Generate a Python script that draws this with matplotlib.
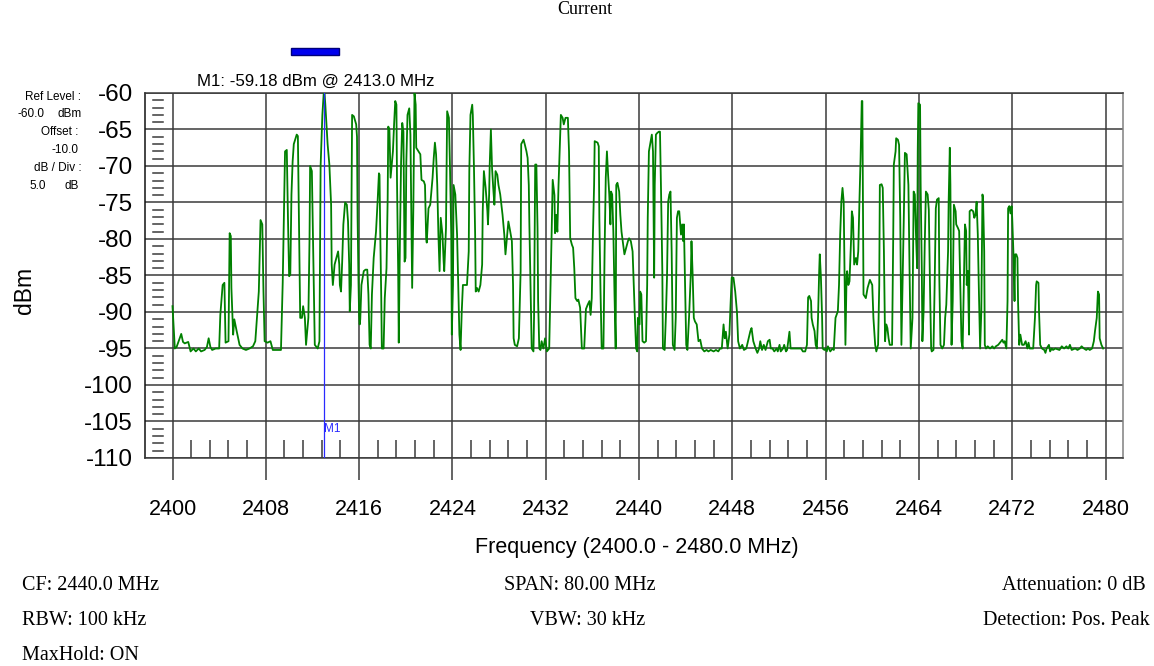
import numpy as np
import matplotlib
matplotlib.use("Agg")
import matplotlib.pyplot as plt
from matplotlib.patches import Rectangle
from matplotlib.transforms import blended_transform_factory

# Analyzer settings
center_mhz = 2440.0
span_mhz = 80.0
ref_level_dbm = -60.0
offset_db = -10.0
db_per_div = 5.0
n_divs = 10
rbw_khz = 100
vbw_khz = 30
attenuation_db = 0
detection = "Pos. Peak"
maxhold = "ON"
marker_name = "M1"
marker_mhz = 2413.0

freq_ticks = list(range(2400, 2481, 8))

# Max-hold trace of the 2.4 GHz ISM band (MHz, dBm)
trace_mhz = [
    2400.0, 2400.1, 2400.2, 2400.35, 2400.75, 2400.9, 2401.05, 2401.35, 2401.55, 2401.8,
    2402.0, 2402.25, 2402.45, 2402.75, 2402.95, 2403.1, 2403.25, 2403.4, 2403.7, 2404.0,
    2404.1, 2404.3, 2404.45, 2404.55, 2404.8, 2404.9, 2405.0, 2405.05, 2405.2, 2405.3,
    2405.5, 2405.75, 2406.0, 2406.3, 2406.6, 2406.9, 2407.1, 2407.4, 2407.55, 2407.7,
    2407.8, 2407.9, 2408.15, 2408.4, 2408.6, 2409.3, 2409.45, 2409.55, 2409.65, 2409.8,
    2409.9, 2410.0, 2410.1, 2410.2, 2410.3, 2410.4, 2410.65, 2410.75, 2410.85, 2410.95,
    2411.1, 2411.2, 2411.35, 2411.45, 2411.65, 2411.75, 2411.8, 2411.95, 2412.05, 2412.2,
    2412.45, 2412.6, 2412.7, 2412.85, 2413.0, 2413.1, 2413.3, 2413.45, 2413.6, 2413.65,
    2413.75, 2413.9, 2414.05, 2414.2, 2414.3, 2414.35, 2414.45, 2414.55, 2414.65, 2414.8,
    2414.95, 2415.05, 2415.15, 2415.2, 2415.3, 2415.4, 2415.55, 2415.75, 2415.82, 2415.87,
    2415.95, 2416.0, 2416.05, 2416.1, 2416.2, 2416.4, 2416.55, 2416.7, 2416.8, 2416.9,
    2417.0, 2417.1, 2417.25, 2417.45, 2417.6, 2417.7, 2417.75, 2417.8, 2417.9, 2417.95,
    2418.1, 2418.2, 2418.35, 2418.45, 2418.5, 2418.6, 2418.7, 2418.8, 2418.9, 2419.0,
    2419.1, 2419.2, 2419.25, 2419.35, 2419.4, 2419.5, 2419.6, 2419.7, 2419.8, 2419.9,
    2419.98, 2420.05, 2420.15, 2420.3, 2420.4, 2420.5, 2420.55, 2420.65, 2420.75, 2420.85,
    2420.9, 2421.1, 2421.25, 2421.35, 2421.55, 2421.65, 2421.75, 2421.8, 2421.95, 2422.1,
    2422.3, 2422.4, 2422.5, 2422.6, 2422.7, 2422.8, 2422.9, 2423.0, 2423.15, 2423.25,
    2423.3, 2423.45, 2423.55, 2423.7, 2423.8, 2423.9, 2423.95, 2424.05, 2424.1, 2424.25,
    2424.4, 2424.5, 2424.6, 2424.7, 2424.8, 2424.9, 2425.25, 2425.4, 2425.45, 2425.55,
    2425.7, 2425.75, 2425.85, 2425.95, 2426.0, 2426.1, 2426.25, 2426.4, 2426.55, 2426.6,
    2426.7, 2426.85, 2427.0, 2427.05, 2427.15, 2427.2, 2427.3, 2427.4, 2427.5, 2427.6,
    2427.7, 2427.85, 2427.95, 2428.1, 2428.3, 2428.45, 2428.55, 2428.65, 2428.8, 2428.95,
    2429.1, 2429.2, 2429.25, 2429.35, 2429.55, 2429.7, 2429.85, 2429.9, 2430.1, 2430.2,
    2430.35, 2430.45, 2430.55, 2430.6, 2430.7, 2430.8, 2430.95, 2431.0, 2431.1, 2431.2,
    2431.3, 2431.35, 2431.45, 2431.55, 2431.65, 2431.8, 2431.95, 2432.1, 2432.3, 2432.35,
    2432.5, 2432.6, 2432.75, 2432.8, 2432.9, 2433.0, 2433.1, 2433.2, 2433.3, 2433.45,
    2433.55, 2433.7, 2433.9, 2434.0, 2434.1, 2434.25, 2434.35, 2434.45, 2434.55, 2434.7,
    2434.8, 2434.95, 2435.1, 2435.3, 2435.45, 2435.6, 2435.75, 2435.85, 2435.95, 2436.05,
    2436.15, 2436.2, 2436.45, 2436.55, 2436.6, 2436.7, 2436.8, 2436.95, 2437.05, 2437.15,
    2437.25, 2437.35, 2437.45, 2437.55, 2437.6, 2437.7, 2437.8, 2437.9, 2438.0, 2438.05,
    2438.15, 2438.3, 2438.4, 2438.5, 2438.65, 2438.75, 2438.9, 2439.05, 2439.15, 2439.3,
    2439.45, 2439.55, 2439.65, 2439.75, 2439.85, 2439.9, 2440.05, 2440.1, 2440.2, 2440.3,
    2440.45, 2440.6, 2440.7, 2440.75, 2440.85, 2441.0, 2441.1, 2441.2, 2441.3, 2441.35,
    2441.45, 2441.55, 2441.7, 2441.8, 2441.9, 2442.0, 2442.05, 2442.2, 2442.3, 2442.4,
    2442.5, 2442.6, 2442.7, 2442.8, 2442.9, 2443.05, 2443.15, 2443.25, 2443.35, 2443.45,
    2443.6, 2443.7, 2443.8, 2443.85, 2443.95, 2444.05, 2444.15, 2444.3, 2444.45, 2444.5,
    2444.6, 2444.7, 2444.8, 2444.95, 2445.1, 2445.25, 2445.4, 2445.6, 2445.8, 2445.95,
    2446.15, 2446.4, 2446.6, 2446.8, 2446.95, 2447.1, 2447.25, 2447.35, 2447.45, 2447.6,
    2447.75, 2447.85, 2447.95, 2448.1, 2448.25, 2448.4, 2448.5, 2448.65, 2448.85, 2449.0,
    2449.2, 2449.4, 2449.55, 2449.65, 2449.8, 2449.9, 2450.0, 2450.15, 2450.3, 2450.4,
    2450.55, 2450.7, 2450.85, 2451.05, 2451.2, 2451.3, 2451.45, 2451.6, 2451.8, 2451.9,
    2452.05, 2452.15, 2452.35, 2452.45, 2452.6, 2452.7, 2452.8, 2452.9, 2453.0, 2453.4,
    2453.9, 2454.05, 2454.25, 2454.4, 2454.5, 2454.6, 2454.75, 2454.8, 2454.9, 2455.05,
    2455.15, 2455.25, 2455.35, 2455.45, 2455.5, 2455.6, 2455.7, 2455.75, 2455.9, 2456.0,
    2456.1, 2456.2, 2456.4, 2456.6, 2456.7, 2456.85, 2457.05, 2457.15, 2457.25, 2457.35,
    2457.45, 2457.55, 2457.6, 2457.7, 2457.8, 2457.85, 2457.95, 2458.05, 2458.2, 2458.25,
    2458.35, 2458.45, 2458.6, 2458.7, 2458.8, 2458.9, 2459.0, 2459.1, 2459.15, 2459.2,
    2459.25, 2459.45, 2459.6, 2459.8, 2460.0, 2460.1, 2460.25, 2460.35, 2460.5, 2460.6,
    2460.65, 2460.8, 2460.9, 2461.0, 2461.1, 2461.2, 2461.3, 2461.4, 2461.5, 2461.7,
    2461.8, 2461.85, 2462.0, 2462.05, 2462.2, 2462.3, 2462.4, 2462.45, 2462.5, 2462.6,
    2462.7, 2462.8, 2462.95, 2463.0, 2463.1, 2463.2, 2463.3, 2463.45, 2463.55, 2463.65,
    2463.75, 2463.85, 2463.9, 2463.95, 2464.1, 2464.15, 2464.25, 2464.3, 2464.4, 2464.5,
    2464.6, 2464.75, 2464.85, 2464.95, 2465.05, 2465.1, 2465.25, 2465.35, 2465.45, 2465.55,
    2465.7, 2465.75, 2465.85, 2466.0, 2466.15, 2466.25, 2466.35, 2466.5, 2466.55, 2466.65,
    2466.7, 2466.8, 2466.9, 2467.0, 2467.15, 2467.2, 2467.35, 2467.45, 2467.55, 2467.65,
    2467.75, 2467.85, 2467.95, 2468.05, 2468.1, 2468.2, 2468.3, 2468.35, 2468.5, 2468.65,
    2468.75, 2468.85, 2468.95, 2469.05, 2469.15, 2469.25, 2469.35, 2469.45, 2469.5, 2469.6,
    2469.65, 2469.75, 2469.9, 2470.1, 2470.3, 2470.45, 2470.6, 2470.8, 2470.95, 2471.15,
    2471.25, 2471.35, 2471.5, 2471.6, 2471.65, 2471.75, 2471.85, 2471.95, 2472.0, 2472.1,
    2472.2, 2472.25, 2472.35, 2472.45, 2472.5, 2472.6, 2472.7, 2472.85, 2473.0, 2473.15,
    2473.3, 2473.4, 2473.5, 2473.8, 2473.95, 2474.05, 2474.1, 2474.25, 2474.3, 2474.4,
    2474.55, 2474.75, 2474.85, 2474.95, 2475.15, 2475.25, 2475.4, 2475.5, 2475.7, 2476.05,
    2476.25, 2476.45, 2476.65, 2476.8, 2476.95, 2477.1, 2477.4, 2477.6, 2477.8, 2477.95,
    2478.15, 2478.35, 2478.5, 2478.65, 2478.85, 2479.0, 2479.1, 2479.25, 2479.35, 2479.45,
    2479.5, 2479.65, 2479.8,
]
trace_dbm = [
    -89.2, -92.2, -95.0, -94.8, -93.0, -94.1, -94.3, -94.1, -95.4, -95.0,
    -95.4, -95.0, -95.4, -95.2, -94.8, -93.6, -94.8, -95.2, -95.0, -95.0,
    -90.4, -86.3, -86.0, -94.2, -94.0, -79.2, -79.6, -86.7, -93.1, -91.0,
    -92.6, -94.5, -95.0, -95.2, -95.0, -94.7, -94.0, -87.2, -77.4, -78.0,
    -87.2, -94.0, -94.2, -94.0, -95.2, -95.2, -86.0, -77.1, -68.0, -67.8,
    -77.1, -85.1, -84.9, -73.9, -69.4, -67.0, -65.7, -65.9, -78.0, -90.8,
    -90.8, -89.2, -90.8, -94.5, -90.8, -79.9, -70.0, -70.7, -80.3, -94.5,
    -95.0, -94.0, -70.0, -63.0, -59.18, -61.5, -67.0, -69.8, -75.3, -83.5,
    -86.3, -83.5, -82.6, -81.7, -83.5, -86.3, -87.2, -83.1, -78.0, -75.0,
    -75.3, -77.6, -83.5, -89.9, -86.3, -63.0, -63.2, -64.3, -66.0, -77.0,
    -86.0, -90.4, -91.7, -91.0, -86.3, -84.4, -84.2, -84.2, -87.6, -94.5,
    -95.0, -87.6, -82.6, -79.0, -74.4, -71.0, -71.2, -77.6, -88.1, -95.0,
    -95.0, -88.1, -84.0, -74.4, -64.6, -65.0, -71.6, -69.8, -68.0, -64.3,
    -61.1, -61.6, -72.1, -84.4, -94.2, -80.3, -69.4, -64.1, -65.3, -83.1,
    -82.6, -69.4, -63.0, -62.1, -65.7, -79.0, -86.7, -75.8, -60.0, -61.6,
    -67.5, -68.0, -68.4, -71.9, -72.1, -72.6, -79.9, -80.5, -75.8, -75.3,
    -71.6, -68.9, -66.8, -68.4, -72.6, -79.4, -84.4, -77.1, -79.4, -83.1,
    -84.4, -78.5, -62.5, -63.4, -70.7, -79.4, -93.1, -86.3, -72.6, -73.9,
    -79.4, -86.3, -93.1, -95.2, -90.0, -86.3, -86.3, -81.7, -70.7, -63.0,
    -61.6, -63.0, -70.3, -79.4, -87.2, -86.7, -87.2, -86.3, -83.5, -76.2,
    -70.7, -73.0, -76.2, -78.0, -73.9, -69.8, -65.0, -70.3, -73.0, -75.3,
    -70.7, -71.2, -72.6, -73.9, -76.7, -79.4, -82.1, -80.3, -77.6, -78.9,
    -80.3, -86.3, -93.6, -94.5, -94.7, -93.6, -84.4, -67.0, -66.4, -67.0,
    -68.0, -68.9, -72.6, -78.0, -86.3, -95.0, -95.4, -90.8, -69.8, -69.8,
    -78.5, -88.5, -95.0, -95.2, -94.0, -95.0, -93.6, -95.4, -95.0, -91.3,
    -79.9, -71.9, -74.0, -79.2, -76.7, -79.0, -72.6, -68.0, -63.0, -63.4,
    -64.3, -63.4, -63.4, -68.0, -79.9, -80.8, -81.2, -84.0, -88.1, -88.5,
    -88.3, -89.4, -95.0, -95.0, -89.6, -89.0, -88.5, -90.4, -88.1, -79.4,
    -72.6, -66.6, -66.8, -67.3, -77.1, -87.2, -95.0, -95.0, -81.7, -71.6,
    -68.0, -71.2, -73.9, -78.0, -73.5, -73.9, -79.0, -87.6, -95.0, -72.6,
    -72.3, -73.5, -76.7, -79.0, -80.8, -82.1, -81.2, -80.3, -79.9, -80.3,
    -81.7, -86.3, -90.8, -95.0, -95.4, -90.8, -91.7, -87.2, -87.6, -94.0,
    -94.2, -94.0, -86.3, -77.1, -68.0, -66.6, -65.7, -68.0, -85.3, -72.6,
    -65.7, -65.5, -65.3, -65.3, -74.4, -84.4, -95.0, -95.2, -90.8, -85.3,
    -74.9, -73.9, -73.5, -81.7, -94.5, -95.2, -90.8, -77.1, -76.2, -76.2,
    -79.4, -78.0, -80.3, -78.0, -86.3, -94.5, -95.2, -90.4, -84.4, -80.3,
    -84.9, -90.8, -91.3, -91.7, -94.0, -93.8, -95.0, -95.4, -95.2, -95.4,
    -95.2, -95.4, -95.2, -95.4, -95.0, -95.0, -91.7, -93.6, -92.7, -95.0,
    -93.1, -89.0, -85.3, -85.3, -87.2, -90.0, -94.0, -95.0, -94.5, -95.2,
    -95.0, -93.6, -92.6, -92.2, -94.0, -94.5, -95.0, -95.6, -95.0, -94.0,
    -95.2, -94.5, -95.2, -94.0, -93.8, -95.0, -95.0, -95.4, -95.0, -95.4,
    -94.5, -95.4, -95.0, -94.5, -95.4, -95.2, -94.0, -92.7, -95.0, -95.0,
    -95.0, -95.4, -95.4, -94.5, -88.0, -87.8, -88.5, -90.8, -91.7, -92.6,
    -94.5, -95.0, -90.8, -84.4, -82.1, -85.3, -90.8, -95.0, -95.2, -95.0,
    -95.4, -94.7, -95.4, -95.0, -95.2, -90.8, -89.9, -86.3, -79.4, -74.9,
    -73.0, -74.9, -81.7, -94.5, -84.9, -84.4, -86.3, -85.8, -79.4, -76.2,
    -77.1, -83.5, -82.6, -83.5, -81.7, -74.9, -68.9, -61.1, -61.1, -74.9,
    -87.6, -88.1, -86.7, -85.6, -86.3, -90.8, -94.5, -95.4, -94.5, -86.3,
    -72.6, -72.5, -73.0, -81.7, -94.0, -91.7, -92.2, -93.6, -94.5, -94.5,
    -79.4, -69.8, -68.0, -66.2, -66.4, -67.1, -77.1, -86.3, -94.5, -86.3,
    -77.6, -68.2, -68.4, -69.8, -72.6, -84.4, -95.0, -90.8, -73.5, -73.9,
    -79.4, -84.0, -68.0, -61.4, -61.6, -72.6, -84.4, -94.0, -90.0, -80.8,
    -73.5, -73.9, -76.0, -86.3, -95.0, -95.4, -95.2, -86.3, -75.8, -74.6,
    -74.4, -85.3, -94.5, -95.0, -94.5, -90.8, -89.0, -81.7, -74.9, -67.5,
    -72.6, -94.5, -88.5, -75.3, -76.2, -78.0, -78.5, -78.9, -86.3, -94.0,
    -95.0, -86.3, -78.0, -78.9, -86.3, -84.4, -93.1, -76.2, -76.0, -76.2,
    -77.1, -76.7, -74.9, -79.4, -87.6, -95.0, -90.0, -73.9, -74.4, -81.7,
    -94.5, -95.0, -94.7, -95.0, -94.7, -95.0, -94.7, -94.5, -94.2, -93.8,
    -94.2, -94.0, -95.0, -88.5, -75.8, -75.5, -76.5, -75.5, -77.1, -81.7,
    -88.5, -82.1, -82.1, -82.6, -88.5, -94.5, -93.1, -94.5, -94.5, -94.0,
    -95.0, -94.2, -95.0, -95.0, -90.8, -86.3, -85.8, -86.0, -89.9, -94.5,
    -95.0, -95.2, -95.6, -95.0, -94.5, -95.4, -95.0, -95.2, -95.0, -95.2,
    -94.7, -95.0, -94.7, -95.0, -94.5, -95.2, -95.0, -95.2, -95.0, -94.7,
    -95.0, -95.2, -95.0, -95.2, -95.0, -94.0, -92.6, -90.8, -87.2, -87.6,
    -93.6, -94.5, -95.0,
]
assert len(trace_mhz) == len(trace_dbm)

SANS = ["Liberation Sans", "DejaVu Sans"]
SERIF = ["Liberation Serif", "DejaVu Serif"]
plt.rcParams["font.family"] = SANS

W, H = 1154, 666
fig = plt.figure(figsize=(W / 100, H / 100), dpi=100)
fig.patch.set_facecolor("white")


def fx(px):
    return px / W


def fy(py):
    return 1 - py / H


# Plot frame in pixel geometry
frame_l, frame_r, frame_t, frame_b = 145, 1123, 93, 458
ax = fig.add_axes([fx(frame_l), fy(frame_b), fx(frame_r) - fx(frame_l), fy(frame_t) - fy(frame_b)])

start_mhz = center_mhz - span_mhz / 2
stop_mhz = center_mhz + span_mhz / 2
px_per_mhz = (1105.5 - 172.5) / span_mhz
ax.set_xlim(start_mhz - (172.5 - frame_l) / px_per_mhz, stop_mhz + (frame_r - 1105.5) / px_per_mhz)
bottom_dbm = ref_level_dbm - db_per_div * n_divs
ax.set_ylim(bottom_dbm, ref_level_dbm)

GRID = "#3a3a3a"
ax.set_xticks(freq_ticks)
ax.set_xticklabels([str(t) for t in freq_ticks])
level_ticks = np.arange(bottom_dbm, ref_level_dbm + 0.1, db_per_div)
ax.set_yticks(level_ticks)
ax.set_yticklabels([f"{v:.0f}" for v in level_ticks])
ax.grid(True, color=GRID, lw=1.1)
ax.set_axisbelow(True)
ax.tick_params(axis="x", direction="out", length=15.8, width=1.1, color=GRID,
               pad=14, labelsize=15.5)
ax.tick_params(axis="y", length=0, pad=8.6, labelsize=17.5)
for side, sp in ax.spines.items():
    sp.set_color(GRID if side != "right" else "#808080")
    sp.set_linewidth(1.1)
ax.spines["left"].set_color("#111111")

# Fine level ticks along the left edge (1 dB)
trans = blended_transform_factory(ax.transAxes, ax.transData)
x0 = (153 - frame_l) / (frame_r - frame_l)
x1 = (163 - frame_l) / (frame_r - frame_l)
for v in np.arange(bottom_dbm + 1, ref_level_dbm, 1.0):
    if int(round(v)) % 5:
        ax.plot([x0, x1], [v, v], transform=trans, color=GRID, lw=1.1, zorder=2)

# Fine frequency ticks along the bottom (span / 50)
step = span_mhz / 50
fine = [start_mhz + k * step for k in range(1, 50) if k % 5]
ax.vlines(fine, bottom_dbm, bottom_dbm + 2.5, color=GRID, lw=1.1, zorder=2)

# Trace
ax.plot(trace_mhz, trace_dbm, color="#008000", lw=1.3, zorder=3)

# Marker
marker_dbm = float(np.interp(marker_mhz, trace_mhz, trace_dbm))
ax.axvline(marker_mhz, color="#2a2aff", lw=0.9, zorder=4)
ax.text(marker_mhz + 0.03, bottom_dbm + 4.8, marker_name, color="#2a2aff",
        fontsize=8.5, ha="left", va="top", zorder=5)
fig.text(fx(197), fy(86), f"{marker_name}: {marker_dbm:.2f} dBm @ {marker_mhz:.1f} MHz",
         fontsize=12.2, ha="left", va="baseline")
fig.patches.append(Rectangle((fx(291), fy(55)), fx(48), 7 / H, transform=fig.transFigure,
                             facecolor="#0000ee", edgecolor="#00007a", lw=1.0))

# Settings block at upper left
info = dict(fontsize=8.5, va="baseline")
fig.text(fx(81), fy(100), "Ref Level :", ha="right", **info)
fig.text(fx(17), fy(117), f"{ref_level_dbm:.1f}", ha="left", **info)
fig.text(fx(82), fy(117), "dBm", ha="right", **info)
fig.text(fx(78), fy(135), "Offset :", ha="right", **info)
fig.text(fx(79), fy(153), f"{offset_db:.1f}", ha="right", **info)
fig.text(fx(82), fy(171), "dB / Div :", ha="right", **info)
fig.text(fx(29), fy(189), f"{db_per_div:.1f}", ha="left", **info)
fig.text(fx(79), fy(189), "dB", ha="right", **info)

# Axis titles
fig.text(fx(25), fy(290), "dBm", rotation=90, fontsize=16.5, ha="center", va="center")
fig.text(fx(637), fy(553), f"Frequency ({start_mhz:.1f} - {stop_mhz:.1f} MHz)",
         fontsize=15.5, ha="center", va="baseline")

# Trace name at the top edge
fig.text(fx(585), fy(14), "Current", family=SERIF, fontsize=13, ha="center", va="baseline")

# Measurement settings footer
foot = dict(family=SERIF, fontsize=14.5, va="baseline")
fig.text(fx(22), fy(590), f"CF: {center_mhz:.1f} MHz", ha="left", **foot)
fig.text(fx(22), fy(625), f"RBW: {rbw_khz} kHz", ha="left", **foot)
fig.text(fx(22), fy(660), f"MaxHold: {maxhold}", ha="left", **foot)
fig.text(fx(580), fy(590), f"SPAN: {span_mhz:.2f} MHz", ha="center", **foot)
fig.text(fx(588), fy(625), f"VBW: {vbw_khz} kHz", ha="center", **foot)
fig.text(fx(1146), fy(590), f"Attenuation: {attenuation_db} dB", ha="right", **foot)
fig.text(fx(1150), fy(625), f"Detection: {detection}", ha="right", **foot)

fig.savefig("out.png", dpi=100, facecolor="white")
